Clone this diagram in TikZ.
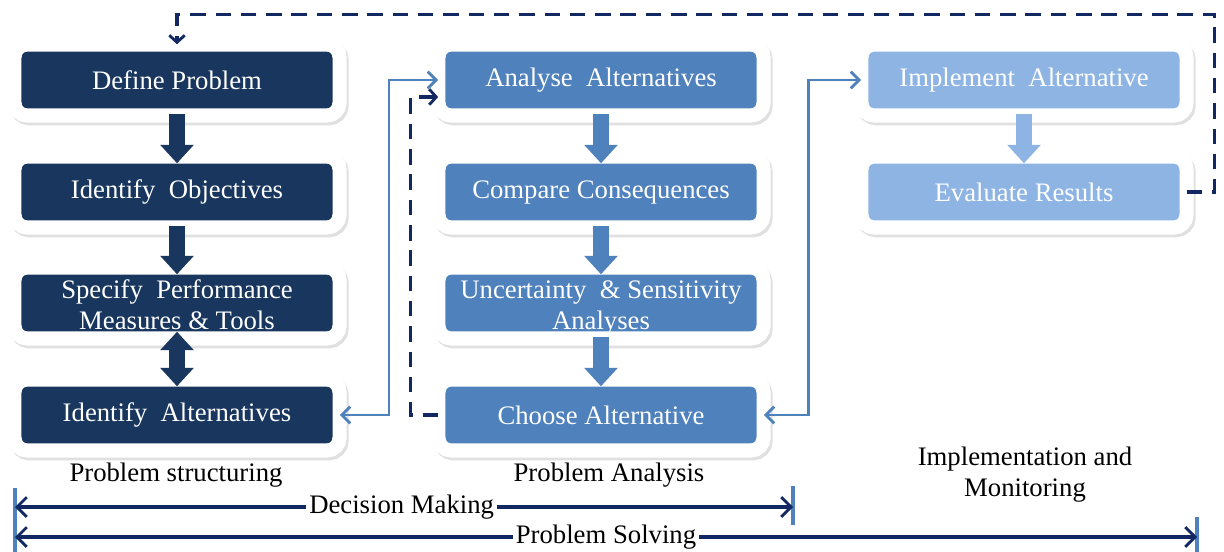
\documentclass[tikz,border=0pt]{standalone}
\usepackage{fontspec}
\setmainfont{Liberation Serif}
\usetikzlibrary{arrows.meta,calc}

\definecolor{navy}{RGB}{24,54,94}
\definecolor{midblue}{RGB}{79,129,189}
\definecolor{lightblue}{RGB}{142,180,227}
\definecolor{dashnavy}{RGB}{18,40,98}

\begin{document}
\begin{tikzpicture}[x=0.025cm,y=-0.025cm,
	font=\fontsize{19}{22}\selectfont,
	main node/.style={rounded corners=9pt,fill=#1,text=white,
		minimum width=8.125cm,minimum height=1.775cm,inner sep=0pt,
		preaction={draw=black!12,line width=10pt,transform canvas={xshift=1.5pt,yshift=-2pt}},
		postaction={draw=white,line width=10pt}},
	block/.style={line width=11pt,draw=#1,shorten <=-1pt,shorten >=-5pt,
		-{Triangle[width=23pt,length=13pt]}},
	link/.style={line width=2.1pt,draw=midblue,
		{Straight Barb[length=6pt,width=12pt,line width=2pt]}-{Straight Barb[length=6pt,width=12pt,line width=2pt]}},
	feedback/.style={line width=2.2pt,draw=dashnavy,dash pattern=on 11pt off 7pt,
		-{Straight Barb[length=5pt,width=11pt,line width=2pt]}},
	span/.style={line width=2.2pt,draw=dashnavy,
		{Straight Barb[length=7pt,width=14pt,line width=2pt]}-{Straight Barb[length=7pt,width=14pt,line width=2pt]}},
	bar/.style={line width=2.2pt,draw=midblue}]
\useasboundingbox (0,0) rectangle (1224,552);

% problem structuring
\node[main node=navy] (1) at (177,80) {Define Problem};
\node[main node=navy] (2) at (177,192) {Identify\ \ Objectives};
\node[main node=navy] (3) at (177,303) {\raisebox{-3.5pt}[\height][\depth]{\begin{tabular}{@{}c@{}}Specify\ \ Performance\\Measures \& Tools\end{tabular}}};
\node[main node=navy] (4) at (177,415) {Identify\ \ Alternatives};

% problem analysis
\node[main node=midblue] (5) at (601,80) {Analyse\ \ Alternatives};
\node[main node=midblue] (6) at (601,192) {Compare Consequences};
\node[main node=midblue] (7) at (601,303) {\raisebox{-3.5pt}[\height][\depth]{\begin{tabular}{@{}c@{}}Uncertainty\ \ \& Sensitivity\\Analyses\end{tabular}}};
\node[main node=midblue] (8) at (601,415) {Choose Alternative};

% implementation
\node[main node=lightblue] (9) at (1024,80) {Implement\ \ Alternative};
\node[main node=lightblue] (10) at (1024,192) {Evaluate Results};

\draw[block=navy] (1) -- (2);
\draw[block=navy] (2) -- (3);
\draw[block=navy,shorten <=-5pt,{Triangle[width=23pt,length=13pt]}-{Triangle[width=23pt,length=13pt]}] (3) -- (4);
\draw[block=midblue] (5) -- (6);
\draw[block=midblue] (6) -- (7);
\draw[block=midblue] (7) -- (8);
\draw[block=lightblue] (9) -- (10);

\draw[link] (4.east) -| ($(4.east)!0.5!(8.west)$) |- (5.west);
\draw[link] (8.east) -- ++(45,0) |- (9.west);
\draw[feedback] (8.west) -- ++(-28,0) |- ($(5.west)+(0,17)$);
\draw[feedback] (10.east) -- ++(28,0) |- ($(1.north)+(0,-30)$) -- (1.north);

% phases
\node (s) at (176,475) {Problem structuring};
\node (a) at (609,475) {Problem Analysis};
\node[align=center] (m) at (1025,475) {Implementation and\\Monitoring};

\coordinate (l) at (15,507);
\coordinate (d) at (793,507);
\coordinate (l2) at (15,537);
\coordinate (p) at (1197,537);
\draw[bar] (15,488) -- (15,552);
\draw[bar] (793,486) -- (793,525);
\draw[bar] (1197,517) -- (1197,552);
\draw[span] (l) -- node[fill=white,inner sep=2pt,pos=0.497] {Decision Making} (d);
\draw[span] (l2) -- node[fill=white,inner sep=2pt,pos=0.50] {Problem Solving} (p);
\end{tikzpicture}
\end{document}
